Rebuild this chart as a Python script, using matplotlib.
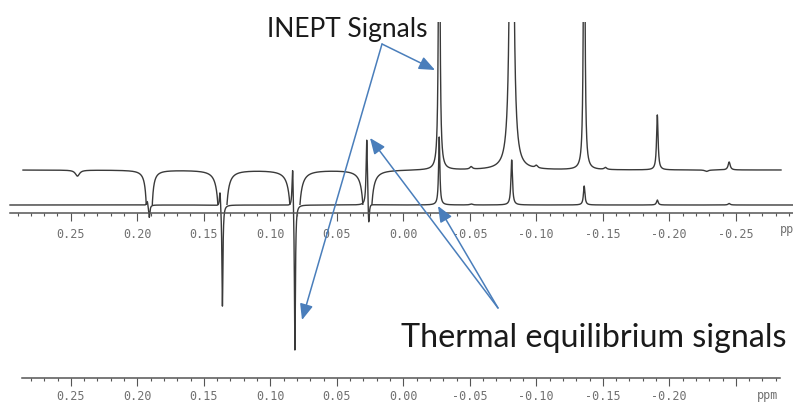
import numpy as np
import matplotlib.pyplot as plt
from matplotlib.ticker import MultipleLocator, FuncFormatter

W, H = 793, 403
PX_PER_PPM = 1330.0
X_ZERO = 403.3  # pixel column of 0 ppm

# INEPT trace (upper), heights in px above its own baseline
inept_pos = [0.245, 0.191, 0.136, 0.0815, 0.027,
             -0.027, -0.0815, -0.136, -0.191, -0.245,
             -0.051, -0.100, -0.152, -0.228]
inept_amp = [-6, -595, -1295, -1590, -1295,
             400, 900, 400, 55, 8,
             2.5, 2.5, 2, -1.5]
inept_fwhm_px = [5, 1.5, 1.5, 1.5, 1.5,
                 1.5, 2.5, 1.5, 1.8, 2.5,
                 3, 3, 3, 4]

# thermal equilibrium trace (lower)
thermal_pos = [0.191, 0.1925, 0.136, 0.1378, 0.0815, 0.0832, 0.0275, 0.0260,
               -0.027, -0.0815, -0.136, -0.191, -0.245, -0.051]
thermal_amp = [-13, 5, -103, 18, -150, 44, 68, -25,
               68, 45, 19, 5, 1.5, 1]
thermal_fwhm_px = [1.5, 1.5, 1.2, 1.5, 1.2, 1.5, 1.5, 1.5,
                   1.5, 1.8, 1.8, 2.0, 2.5, 3]

INEPT_OFFSET = 35  # px between the two baselines
TRACE_KW = dict(color='#3a3a3a', lw=1.0)


def to_ppm(x):
    return (X_ZERO - x) / PX_PER_PPM


def rect(x0, y0, x1, y1):
    return [x0 / W, 1 - y1 / H, (x1 - x0) / W, (y1 - y0) / H]


def spectrum(ppm, pos, amp, fwhm_px):
    y = np.zeros_like(ppm)
    for p, a, f in zip(pos, amp, fwhm_px):
        g = f / PX_PER_PPM / 2
        y += a * g ** 2 / ((ppm - p) ** 2 + g ** 2)
    return y


def ppm_axis(ax, x0, x1, pad, hide_below=None):
    ax.set_xlim(to_ppm(x0), to_ppm(x1))
    ax.set_facecolor('none')
    for s in ['left', 'right', 'top']:
        ax.spines[s].set_visible(False)
    ax.spines['bottom'].set_color('#555555')
    ax.spines['bottom'].set_linewidth(1.1)
    ax.set_yticks([])
    ax.xaxis.set_major_locator(MultipleLocator(0.05))
    ax.xaxis.set_minor_locator(MultipleLocator(0.01))

    def fmt(v, _):
        if hide_below is not None and v < hide_below:
            return ''
        if abs(v) < 1e-9:
            v = 0.0
        return f'{v:.2f}'
    ax.xaxis.set_major_formatter(FuncFormatter(fmt))
    ax.tick_params(axis='x', which='major', direction='out', length=5.5,
                   width=0.8, color='#555555', labelsize=8.5,
                   labelcolor='#707070', pad=pad)
    ax.tick_params(axis='x', which='minor', direction='out', length=2,
                   width=0.8, color='#555555')
    for lab in ax.get_xticklabels():
        lab.set_family('DejaVu Sans Mono')


fig = plt.figure(figsize=(W / 100, H / 100), dpi=100)

# lower trace
ax = fig.add_axes([0, 0, 1, 1])
ax.set_xlim(to_ppm(0), to_ppm(W))
ax.set_ylim(-(H - 205), 205)
ax.axis('off')
ppm_lo = np.linspace(to_ppm(10), to_ppm(W), 9000)
ax.plot(ppm_lo, spectrum(ppm_lo, thermal_pos, thermal_amp, thermal_fwhm_px),
        **TRACE_KW)

# upper trace, its window cut at the lower baseline
ax_up = fig.add_axes(rect(0, 22, W, 205))
ax_up.set_xlim(to_ppm(0), to_ppm(W))
ax_up.set_ylim(0, 183)
ax_up.axis('off')
ppm_up = np.linspace(to_ppm(23), to_ppm(781), 9000)
ax_up.plot(ppm_up, INEPT_OFFSET + spectrum(ppm_up, inept_pos, inept_amp, inept_fwhm_px),
           **TRACE_KW)

# ppm scales
ax_t = fig.add_axes(rect(10, 200, W, 213))
ppm_axis(ax_t, 10, W, pad=5)
ax_b = fig.add_axes(rect(22, 365, 780, 377.5))
ppm_axis(ax_b, 22, 780, pad=3.5, hide_below=-0.225)

# labels and arrows in pixel space
ov = fig.add_axes([0, 0, 1, 1])
ov.set_xlim(0, W)
ov.set_ylim(H, 0)
ov.axis('off')
ov.text(780, 230, 'ppm', ha='left', va='center', fontsize=8.5,
        family='DejaVu Sans Mono', color='#707070', clip_on=False)
ov.text(768, 395, 'ppm', ha='center', va='center', fontsize=8.5,
        family='DejaVu Sans Mono', color='#707070')

ov.text(267, 37, 'INEPT Signals', fontsize=19, family='Lato',
        va='baseline', ha='left', color='#1a1a1a')
ov.text(401, 347, 'Thermal equilibrium signals', fontsize=23.2, family='Lato',
        va='baseline', ha='left', color='#1a1a1a')

arrow = dict(arrowstyle='-|>,head_length=0.6,head_width=0.25', color='#4a7ebb',
             lw=1.1, shrinkA=0, shrinkB=0, mutation_scale=16)
for start, tip in [((382, 44), (435, 70)), ((382, 44), (302, 320)),
                   ((498, 308), (370, 138)), ((498, 308), (438, 206))]:
    ov.annotate('', xy=tip, xytext=start, arrowprops=arrow)

fig.savefig('out.png', dpi=100)
